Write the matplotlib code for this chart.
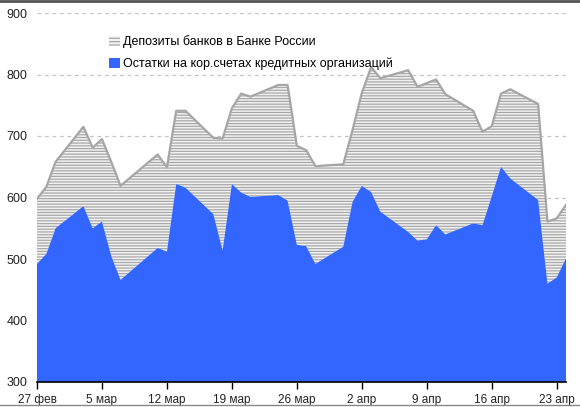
import numpy as np
import pandas as pd
import matplotlib
matplotlib.use('Agg')
from matplotlib import pyplot as plt
from matplotlib.lines import Line2D
import matplotlib.patches as mpatches

plt.rcParams['font.family'] = ['Liberation Sans', 'DejaVu Sans']
plt.rcParams['hatch.linewidth'] = 0.9

# business days, 2008
dates = pd.to_datetime([
    '2008-02-27', '2008-02-28', '2008-02-29', '2008-03-03', '2008-03-04', '2008-03-05',
    '2008-03-06', '2008-03-07', '2008-03-11', '2008-03-12', '2008-03-13', '2008-03-14',
    '2008-03-17', '2008-03-18', '2008-03-19', '2008-03-20', '2008-03-21', '2008-03-24',
    '2008-03-25', '2008-03-26', '2008-03-27', '2008-03-28', '2008-03-31', '2008-04-01',
    '2008-04-02', '2008-04-03', '2008-04-04', '2008-04-07', '2008-04-08', '2008-04-09',
    '2008-04-10', '2008-04-11', '2008-04-14', '2008-04-15', '2008-04-16', '2008-04-17',
    '2008-04-18', '2008-04-21', '2008-04-22', '2008-04-23', '2008-04-24'])

# Остатки на корсчетах, млрд руб.
ostatki = np.array([492, 508, 550, 586, 550, 561, 505, 466, 518, 512, 622, 616,
                    573, 514, 622, 608, 601, 604, 595, 523, 521, 492, 520, 593,
                    619, 609, 577, 544, 530, 532, 555, 540, 558, 555, 602, 650,
                    631, 596, 460, 470, 501])
# Депозиты банков в Банке России
depozity = np.array([106, 109, 108, 129, 131, 134, 153, 153, 152, 137, 119, 125,
                     124, 182, 123, 161, 163, 179, 188, 161, 156, 159, 134, 117,
                     151, 203, 217, 263, 250, 254, 237, 228, 183, 152, 114, 119,
                     145, 156, 101, 96, 87])

tick_dates = pd.date_range('2008-02-27', periods=9, freq='7D')
tick_labels = ['27 фев', '5 мар', '12 мар', '19 мар', '26 мар', '2 апр', '9 апр', '16 апр', '23 апр']
yticks = [300, 400, 500, 600, 700, 800, 900]

top = ostatki + depozity

fig = plt.figure(figsize=(5.8, 4.07), dpi=100)
ax = fig.add_axes([37/580, 25/407, 529/580, 369/407])

ax.fill_between(dates, 0, ostatki, facecolor='#3366ff', edgecolor='none', linewidth=0, zorder=3)
ax.fill_between(dates, ostatki, top, facecolor='#f2f2f2', edgecolor='#a8a8a8',
                hatch='------', linewidth=0, zorder=2)
ax.plot(dates, top, color='#a6a6a6', lw=1.6, zorder=2.5)

ax.set_ylim(300, 900)
ax.set_xlim(dates[0], dates[-1])
ax.set_yticks(yticks)
ax.set_xticks(tick_dates)
ax.set_xticklabels(tick_labels)

ax.grid(axis='y', ls=(0, (3, 3)), color='#c4c4c4', lw=0.9, zorder=0)
ax.set_axisbelow(True)
for s in ['left', 'right', 'top']:
    ax.spines[s].set_visible(False)
ax.spines['bottom'].set_linewidth(1.2)
ax.spines['bottom'].set_zorder(5)
ax.tick_params(axis='y', length=0, pad=7, labelsize=9, labelcolor='#222222')
ax.tick_params(axis='x', length=5, width=1, direction='out', pad=4, labelsize=8.5, labelcolor='#222222')

h1 = mpatches.Patch(facecolor='#f2f2f2', edgecolor='#a8a8a8', hatch='-----', linewidth=0)
h2 = mpatches.Patch(facecolor='#3366ff', edgecolor='none')
leg = ax.legend([h1, h2], ['Депозиты банков в Банке России',
                           'Остатки на кор.счетах кредитных организаций'],
                loc='upper left', bbox_to_anchor=(104/580, 1 - 30.5/407), bbox_transform=fig.transFigure,
                frameon=False, fontsize=9, handlelength=0.85, handleheight=0.85,
                handletextpad=0.3, labelspacing=0.75, borderaxespad=0)
leg.set_zorder(6)

# frame lines of the picture
fig.add_artist(Line2D([0, 1], [0.998, 0.998], transform=fig.transFigure, color='#555555', lw=2))
fig.add_artist(Line2D([0, 1], [0.004, 0.004], transform=fig.transFigure, color='#888888', lw=1))

fig.savefig('out.png', dpi=100)
